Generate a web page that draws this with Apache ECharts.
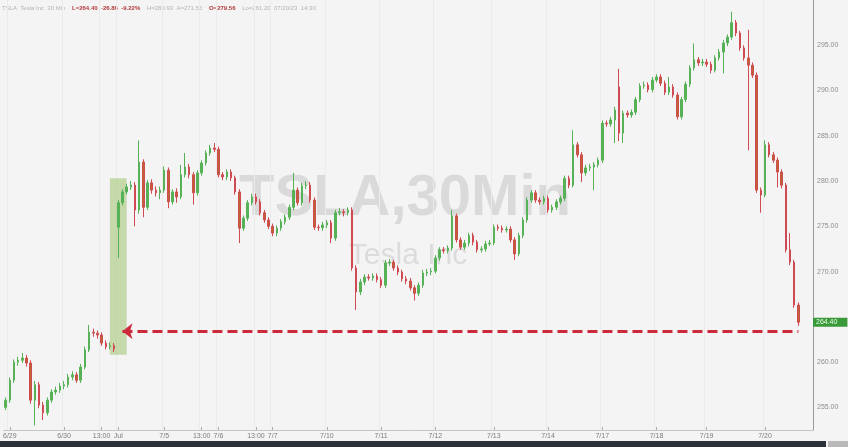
<!DOCTYPE html>
<html>
<head>
<meta charset="utf-8">
<script src="https://cdn.jsdelivr.net/npm/echarts@6/dist/echarts.min.js"></script>
<style>
html, body { margin: 0; padding: 0; background: #f4f4f4; }
#chart { width: 848px; height: 447px; }
</style>
</head>
<body>
<div id="chart"></div>
<script>
// TSLA 30 min bars, 6/29 -> 7/20
var opens = [
  255.0, 255.8, 258.0, 260.0, 260.2, 260.45, 259.9, 255.8, 257.5, 255.25,
  254.4, 255.8, 256.7, 256.9, 257.35, 257.5, 258.35, 258.6, 258.0, 259.45,
  261.35, 263.3, 263.2, 263.0, 262.1, 261.7, 261.8, 274.9, 277.6, 278.8,
  279.35, 279.55, 276.8, 282.1, 277.1, 279.8, 279.0, 278.7, 279.0, 281.2,
  277.7, 278.8, 278.25, 280.7, 281.55, 280.7, 278.7, 280.9, 282.0, 283.1,
  283.65, 283.5, 280.7, 280.45, 281.0, 280.35, 278.8, 274.8, 275.9, 277.6,
  278.25, 277.7, 276.5, 275.7, 275.0, 274.25, 274.8, 275.5, 276.0, 277.1,
  279.0, 277.6, 279.45, 279.55, 277.9, 274.9, 274.85, 275.15, 275.4, 273.7,
  276.5, 276.6, 276.5, 276.8, 270.4, 267.75, 268.85, 269.4, 269.3, 269.5,
  269.1, 268.5, 270.95, 271.05, 270.4, 269.95, 269.2, 268.95, 268.2, 267.6,
  268.5, 269.85, 269.95, 270.05, 271.5, 272.4, 272.3, 272.6, 276.15, 273.5,
  272.7, 273.15, 274.0, 273.25, 272.4, 272.5, 273.05, 273.15, 274.9, 274.8,
  274.6, 274.7, 273.5, 271.95, 274.0, 275.7, 277.9, 278.7, 277.9, 277.7,
  278.1, 276.8, 277.1, 277.7, 278.1, 280.3, 279.55, 284.0, 282.9, 280.9,
  281.45, 281.55, 281.8, 282.3, 286.4, 286.3, 286.75, 290.4, 285.3, 287.5,
  287.3, 287.6, 289.0, 290.5, 290.6, 290.1, 291.15, 291.5, 290.8, 289.8,
  290.4, 289.5, 287.1, 289.0, 290.7, 292.5, 293.4, 293.05, 293.15, 292.9,
  292.25, 293.6, 294.25, 295.25, 295.9, 297.5, 296.35, 294.7, 293.6, 292.8,
  291.7, 279.0, 278.45, 284.0, 282.9, 282.3, 281.0, 279.55, 272.4, 271.05, 266.3
];
var closes = [
  255.8, 258.0, 260.0, 260.2, 260.45, 259.9, 255.8, 257.5, 255.25, 254.4,
  255.8, 256.7, 256.9, 257.35, 257.5, 258.35, 258.6, 258.0, 259.45, 261.35,
  263.3, 263.2, 263.0, 262.1, 261.7, 261.8, 261.45, 277.6, 278.8, 279.35,
  279.55, 276.8, 282.1, 277.1, 279.8, 279.0, 278.7, 279.0, 281.2, 277.7,
  278.8, 278.25, 280.7, 281.55, 280.7, 278.7, 280.9, 282.0, 283.1, 283.65,
  283.5, 280.7, 280.45, 281.0, 280.35, 278.8, 274.8, 275.9, 277.6, 278.25,
  277.7, 276.5, 275.7, 275.0, 274.25, 274.8, 275.5, 276.0, 277.1, 279.0,
  277.6, 279.45, 279.55, 277.9, 274.9, 274.85, 275.15, 275.4, 273.7, 276.5,
  276.6, 276.5, 276.8, 270.4, 267.75, 268.85, 269.4, 269.3, 269.5, 269.1,
  268.5, 270.95, 271.05, 270.4, 269.95, 269.2, 268.95, 268.2, 267.6, 268.5,
  269.85, 269.95, 270.05, 271.5, 272.4, 272.3, 272.6, 276.15, 273.5, 272.7,
  273.15, 274.0, 273.25, 272.4, 272.5, 273.05, 273.15, 274.9, 274.8, 274.6,
  274.7, 273.5, 271.95, 274.0, 275.7, 277.9, 278.7, 277.9, 277.7, 278.1,
  276.8, 277.1, 277.7, 278.1, 280.3, 279.55, 284.0, 282.9, 280.9, 281.45,
  281.55, 281.8, 282.3, 286.4, 286.3, 286.75, 287.85, 285.3, 287.5, 287.3,
  287.6, 289.0, 290.5, 290.6, 290.1, 291.15, 291.5, 290.8, 289.8, 290.4,
  289.5, 287.1, 289.0, 290.7, 292.5, 293.4, 293.05, 293.15, 292.9, 292.25,
  293.6, 294.25, 295.25, 295.9, 297.5, 296.35, 294.7, 293.6, 292.8, 291.7,
  279.0, 278.45, 284.0, 282.9, 282.3, 281.0, 279.55, 272.4, 271.05, 266.3, 264.4
];
var lows = [
  254.7, 255.5, 257.7, 259.6, 259.9, 259.5, 255.4, 253.0, 254.9, 253.6,
  254.1, 255.5, 256.4, 256.6, 257.0, 257.2, 258.0, 257.7, 257.7, 259.2,
  261.1, 262.8, 262.6, 261.8, 261.4, 261.4, 261.1, 271.5, 277.3, 278.5,
  279.0, 275.0, 276.4, 276.0, 276.8, 278.6, 278.3, 278.0, 278.7, 277.0,
  277.4, 277.6, 278.0, 280.4, 280.3, 277.4, 278.4, 280.6, 281.7, 282.8,
  283.2, 280.4, 280.1, 280.1, 280.0, 278.5, 273.15, 274.5, 275.6, 277.3,
  277.4, 276.2, 275.4, 274.7, 273.9, 273.9, 274.5, 275.2, 275.7, 276.8,
  277.3, 277.3, 279.1, 277.6, 274.6, 274.5, 274.5, 274.8, 273.15, 273.4,
  276.2, 276.1, 276.2, 270.1, 265.75, 267.4, 268.5, 269.0, 269.0, 268.8,
  268.2, 268.2, 270.6, 270.1, 269.6, 268.9, 268.6, 267.9, 266.8, 267.3,
  268.2, 269.5, 269.6, 269.8, 271.2, 272.0, 272.0, 272.3, 273.2, 272.4,
  272.4, 272.8, 272.9, 272.1, 272.1, 272.2, 272.8, 272.9, 274.5, 274.3,
  274.3, 273.2, 271.3, 271.7, 273.7, 275.4, 277.6, 277.6, 277.4, 277.4,
  276.5, 276.5, 276.8, 277.4, 277.8, 279.2, 279.3, 282.6, 279.9, 280.6,
  281.1, 279.0, 281.5, 282.0, 286.0, 286.0, 284.2, 284.4, 284.2, 287.0,
  287.0, 287.3, 288.7, 290.2, 289.8, 289.8, 290.9, 290.5, 289.5, 289.5,
  289.2, 286.8, 286.8, 288.7, 290.4, 292.2, 292.7, 292.7, 292.6, 291.9,
  292.0, 293.3, 291.9, 294.9, 295.6, 296.0, 294.4, 293.3, 283.4, 291.4,
  278.7, 276.5, 278.2, 282.6, 282.0, 279.3, 279.2, 272.1, 270.7, 266.0, 264.0
];
var highs = [
  256.1, 258.3, 260.3, 260.6, 261.0, 260.8, 260.2, 257.9, 257.8, 255.6,
  256.1, 257.0, 257.3, 257.7, 257.9, 258.7, 259.0, 258.9, 259.8, 261.7,
  264.1, 263.7, 263.5, 263.3, 262.4, 262.2, 262.1, 277.9, 279.1, 279.7,
  280.0, 279.9, 284.5, 282.4, 280.1, 280.2, 279.4, 279.4, 281.6, 281.5,
  279.1, 279.2, 281.8, 283.1, 281.9, 281.0, 281.2, 282.3, 283.4, 284.0,
  284.2, 283.8, 281.0, 281.3, 281.3, 280.6, 279.1, 276.2, 277.9, 278.6,
  278.6, 278.0, 276.8, 276.0, 275.3, 275.1, 275.8, 276.3, 277.4, 280.9,
  279.3, 279.8, 280.0, 279.9, 278.2, 275.2, 275.5, 275.7, 275.7, 276.8,
  277.0, 276.9, 277.1, 277.1, 270.7, 269.2, 269.7, 269.7, 269.8, 269.8,
  269.4, 271.3, 271.4, 271.3, 270.7, 270.2, 269.5, 269.3, 268.5, 268.8,
  270.2, 270.3, 270.4, 271.8, 272.7, 272.7, 272.9, 276.8, 276.4, 273.8,
  273.5, 274.3, 274.3, 273.5, 272.8, 273.4, 273.5, 275.2, 275.2, 275.1,
  275.0, 275.0, 273.8, 274.3, 276.0, 278.2, 279.0, 279.0, 278.2, 278.4,
  278.4, 277.4, 278.0, 278.4, 280.6, 280.6, 285.6, 284.3, 283.2, 281.8,
  281.9, 282.1, 282.6, 286.7, 286.7, 287.1, 288.2, 292.4, 287.8, 287.8,
  287.9, 289.3, 290.8, 291.0, 290.9, 291.5, 291.8, 291.8, 291.1, 291.5,
  290.7, 289.8, 289.3, 291.0, 292.8, 295.2, 293.7, 293.5, 293.5, 293.2,
  293.9, 294.6, 295.6, 296.2, 298.7, 297.8, 296.6, 295.0, 296.7, 293.1,
  292.0, 279.3, 284.5, 284.3, 283.2, 282.6, 281.3, 279.8, 274.25, 271.3, 266.6
];

// bar slots on the time axis (a few empty ones after the last bar)
var slotCount = 194;
// date labels and the bar slot they sit under
var tickIndex = [1, 14, 23, 27, 38, 47, 51, 60, 64, 77, 90, 103, 117, 130, 143, 156, 168, 182];
var tickText = ['6/29', '6/30', '13:00', 'Jul', '7/5', '13:00', '7/6', '13:00', '7/7',
                '7/10', '7/11', '7/12', '7/13', '7/14', '7/17', '7/18', '7/19', '7/20'];

var gapTop = 280.3, gapBottom = 260.8;   // shaded gap box
var prevLevel = 263.4;                   // dashed arrow level

var lastClose = closes[closes.length - 1];

var cats = [];
for (var i = 0; i < slotCount; i++) cats.push(String(i));
var tickLabel = {};
tickIndex.forEach(function (k, j) { tickLabel[k] = tickText[j]; });
function isTick(idx) { return tickLabel[idx] !== undefined; }

var candles = closes.map(function (c, i) { return [opens[i], c, lows[i], highs[i]]; });

var chart = echarts.init(document.getElementById('chart'));

chart.setOption({
    animation: false,
    backgroundColor: '#f4f4f4',
    grid: { left: 0, right: 35, top: 0, height: 430 },
    xAxis: {
        type: 'category',
        data: cats,
        boundaryGap: true,
        axisLine: { show: true, lineStyle: { color: '#c6c6c6' } },
        axisTick: { show: true, inside: true, length: 3, alignWithLabel: true, interval: isTick, lineStyle: { color: '#aaaaaa' } },
        axisLabel: {
            interval: isTick,
            formatter: function (v, idx) { return tickLabel[idx] || ''; },
            fontSize: 7, color: '#7c7c7c', margin: 3, fontFamily: 'Liberation Sans'
        },
        splitLine: { show: true, interval: isTick, lineStyle: { color: '#ebebeb' } }
    },
    yAxis: {
        type: 'value',
        position: 'right',
        min: 252.5, max: 300, interval: 2.5,
        axisLine: { show: true, lineStyle: { color: '#9c9c9c' } },
        axisTick: { show: false },
        splitLine: { show: false },
        axisLabel: {
            fontSize: 7, color: '#8e8e8e', margin: 4, fontFamily: 'Liberation Sans',
            formatter: function (v) {
                if (v % 5 !== 0 || v >= 300 || Math.abs(v - lastClose) < 3) return '';
                return v.toFixed(2);
            }
        }
    },
    graphic: [
        {
            type: 'text', left: 2, top: 2,
            style: {
                text: '{g|TSLA  Tesla Inc  30 Min}  {r|L=264.40  -26.86  -9.22%}  {g|H=280.93  A=271.55}  {r|O=279.56}  {g|Lo=261.20  07/20/23  14:30}',
                rich: {
                    g: { fill: '#b4b4b4', fontSize: 6, fontFamily: 'Liberation Sans' },
                    r: { fill: '#b03a3a', fontSize: 6, fontWeight: 'bold', fontFamily: 'Liberation Sans' }
                }
            }
        },
        {
            type: 'text', x: 405, y: 199,
            style: { text: 'TSLA,30Min', font: 'bold 58px "Liberation Sans"', fill: '#dadada', textAlign: 'center', textVerticalAlign: 'middle' }
        },
        {
            type: 'text', x: 408, y: 256,
            style: { text: 'Tesla Inc', font: '30px "Liberation Sans"', fill: '#dcdcdc', textAlign: 'center', textVerticalAlign: 'middle' }
        },
        { type: 'rect', shape: { x: 0, y: 441, width: 826, height: 6 }, style: { fill: '#2c3038' } },
        { type: 'rect', shape: { x: 828, y: 441, width: 20, height: 6 }, style: { fill: '#b9b9b9' } }
    ],
    series: [{
        type: 'candlestick',
        data: candles,
        barWidth: 2,
        itemStyle: {
            color: '#57b257', color0: '#b9682c',
            borderColor: '#57b257', borderColor0: '#cf4a52', borderWidth: 1
        },
        markArea: {
            silent: true,
            itemStyle: { color: 'rgba(150,190,95,0.5)' },
            data: [[{ xAxis: 25, yAxis: gapTop }, { xAxis: 29, yAxis: gapBottom }]]
        },
        markLine: {
            silent: true,
            symbol: ['none', 'none'],
            label: { show: false },
            lineStyle: { color: '#cc2a3a', width: 3, type: [10, 5] },
            data: [
                [
                    { coord: [28, prevLevel], symbol: 'arrow', symbolSize: [12, 10] },
                    { coord: [closes.length - 1, prevLevel], symbol: 'none' }
                ],
                {
                    yAxis: lastClose,
                    symbol: 'none',
                    lineStyle: { color: 'rgba(0,0,0,0)', width: 0 },
                    label: {
                        show: true, position: 'end', distance: 0,
                        formatter: lastClose.toFixed(2),
                        backgroundColor: '#3a9a3a', color: '#eaffea',
                        fontSize: 7, fontFamily: 'Liberation Sans',
                        padding: [1, 10, 1, 3]
                    }
                }
            ]
        }
    }]
});
</script>
</body>
</html>
